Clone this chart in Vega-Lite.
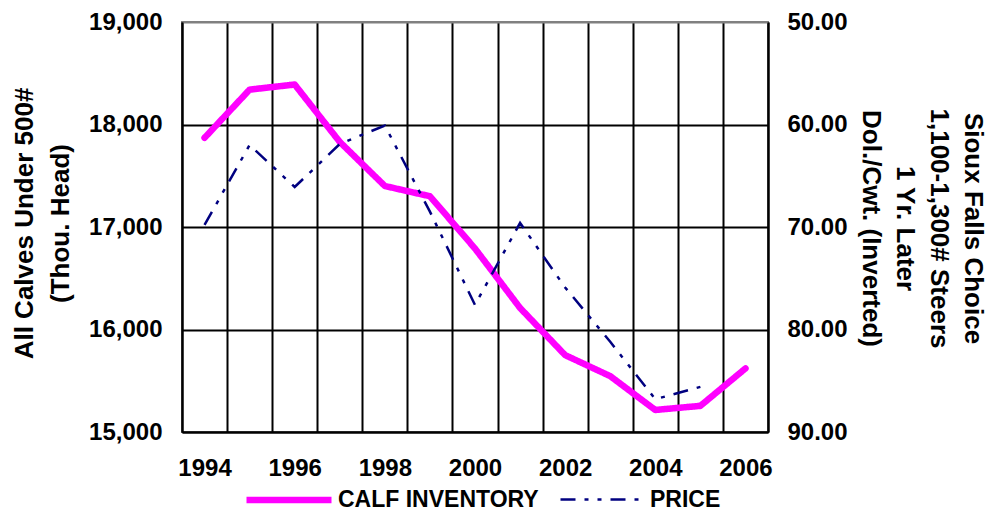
{
  "$schema": "https://vega.github.io/schema/vega-lite/v6.json",
  "width": 586,
  "height": 410,
  "autosize": "none",
  "padding": {"left": 182, "top": 22, "right": 223, "bottom": 80},
  "background": "white",
  "config": {
    "font": "Liberation Sans",
    "view": {"stroke": "#808080", "strokeWidth": 2},
    "axis": {
      "labelColor": "black",
      "titleColor": "black",
      "labelFontSize": 24,
      "labelFontWeight": "bold",
      "titleFontSize": 26,
      "titleFontWeight": "bold",
      "domainColor": "black",
      "domainWidth": 2,
      "ticks": false
    },
    "legend": {
      "orient": "none",
      "legendX": 61,
      "legendY": 432,
      "direction": "horizontal",
      "labelFontSize": 23,
      "labelFontWeight": "bold",
      "labelColor": "black",
      "labelLimit": 400,
      "symbolType": "stroke",
      "symbolSize": 7225,
      "columnPadding": 16,
      "labelOffset": 3,
      "padding": 0
    }
  },
  "data": {
    "values": [
      {"year": 1994, "series": "CALF INVENTORY", "value": 17870},
      {"year": 1995, "series": "CALF INVENTORY", "value": 18340},
      {"year": 1996, "series": "CALF INVENTORY", "value": 18390},
      {"year": 1997, "series": "CALF INVENTORY", "value": 17830},
      {"year": 1998, "series": "CALF INVENTORY", "value": 17400},
      {"year": 1999, "series": "CALF INVENTORY", "value": 17300},
      {"year": 2000, "series": "CALF INVENTORY", "value": 16790},
      {"year": 2001, "series": "CALF INVENTORY", "value": 16210},
      {"year": 2002, "series": "CALF INVENTORY", "value": 15750},
      {"year": 2003, "series": "CALF INVENTORY", "value": 15545},
      {"year": 2004, "series": "CALF INVENTORY", "value": 15215},
      {"year": 2005, "series": "CALF INVENTORY", "value": 15255},
      {"year": 2006, "series": "CALF INVENTORY", "value": 15620},
      {"year": 1994, "series": "PRICE", "value": 69.8},
      {"year": 1995, "series": "PRICE", "value": 62.0},
      {"year": 1996, "series": "PRICE", "value": 66.1},
      {"year": 1997, "series": "PRICE", "value": 61.9},
      {"year": 1998, "series": "PRICE", "value": 60.1},
      {"year": 1999, "series": "PRICE", "value": 68.5},
      {"year": 2000, "series": "PRICE", "value": 77.6},
      {"year": 2001, "series": "PRICE", "value": 69.6},
      {"year": 2002, "series": "PRICE", "value": 75.9},
      {"year": 2003, "series": "PRICE", "value": 81.2},
      {"year": 2004, "series": "PRICE", "value": 86.8},
      {"year": 2005, "series": "PRICE", "value": 85.6}
    ]
  },
  "encoding": {
    "x": {
      "field": "year",
      "type": "ordinal",
      "scale": {"paddingInner": 0, "paddingOuter": 0},
      "axis": {
        "title": null,
        "tickBand": "extent",
        "grid": true,
        "gridColor": "black",
        "gridWidth": 2,
        "labelAngle": 0,
        "labelPadding": 24,
        "labelOverlap": false,
        "labelExpr": "datum.value % 2 == 0 ? datum.label : ''"
      }
    },
    "color": {
      "field": "series",
      "type": "nominal",
      "scale": {"domain": ["CALF INVENTORY", "PRICE"], "range": ["#FF00FF", "#000080"]},
      "legend": {"title": null}
    },
    "strokeDash": {
      "field": "series",
      "type": "nominal",
      "scale": {"domain": ["CALF INVENTORY", "PRICE"], "range": [[1, 0], [15, 9, 4, 9, 4, 9]]},
      "legend": {"title": null}
    },
    "strokeWidth": {
      "field": "series",
      "type": "nominal",
      "scale": {"domain": ["CALF INVENTORY", "PRICE"], "range": [6.5, 2.5]},
      "legend": {"title": null}
    }
  },
  "layer": [
    {
      "transform": [{"filter": "datum.series == 'CALF INVENTORY'"}],
      "mark": {"type": "line", "strokeCap": "round", "strokeJoin": "round"},
      "encoding": {
        "y": {
          "field": "value",
          "type": "quantitative",
          "scale": {"domain": [15000, 19000], "nice": false, "zero": false},
          "axis": {
            "orient": "left",
            "values": [15000, 16000, 17000, 18000, 19000],
            "format": ",d",
            "grid": true,
            "gridColor": {"condition": {"test": "datum.value >= 19000", "value": "#808080"}, "value": "black"},
            "gridWidth": 2,
            "labelPadding": 20,
            "title": ["All Calves Under 500#", "(Thou. Head)"],
            "titleAngle": -90,
            "titleX": -158,
            "titleY": 201,
            "titleAlign": "center",
            "titleBaseline": "middle",
            "titleLineHeight": 36
          }
        }
      }
    },
    {
      "transform": [{"filter": "datum.series == 'PRICE'"}],
      "mark": {"type": "line", "strokeJoin": "miter"},
      "encoding": {
        "y": {
          "field": "value",
          "type": "quantitative",
          "scale": {"domain": [50, 90], "reverse": true, "nice": false, "zero": false},
          "axis": {
            "orient": "right",
            "values": [50, 60, 70, 80, 90],
            "format": ".2f",
            "grid": false,
            "labelPadding": 19,
            "title": ["Sioux Falls Choice", "1,100-1,300# Steers", "1 Yr. Later", "Dol./Cwt. (Inverted)"],
            "titleAngle": 90,
            "titleX": 204,
            "titleY": 206,
            "titleAlign": "center",
            "titleBaseline": "middle",
            "titleLineHeight": 34
          }
        }
      }
    }
  ],
  "resolve": {"scale": {"y": "independent"}}
}
